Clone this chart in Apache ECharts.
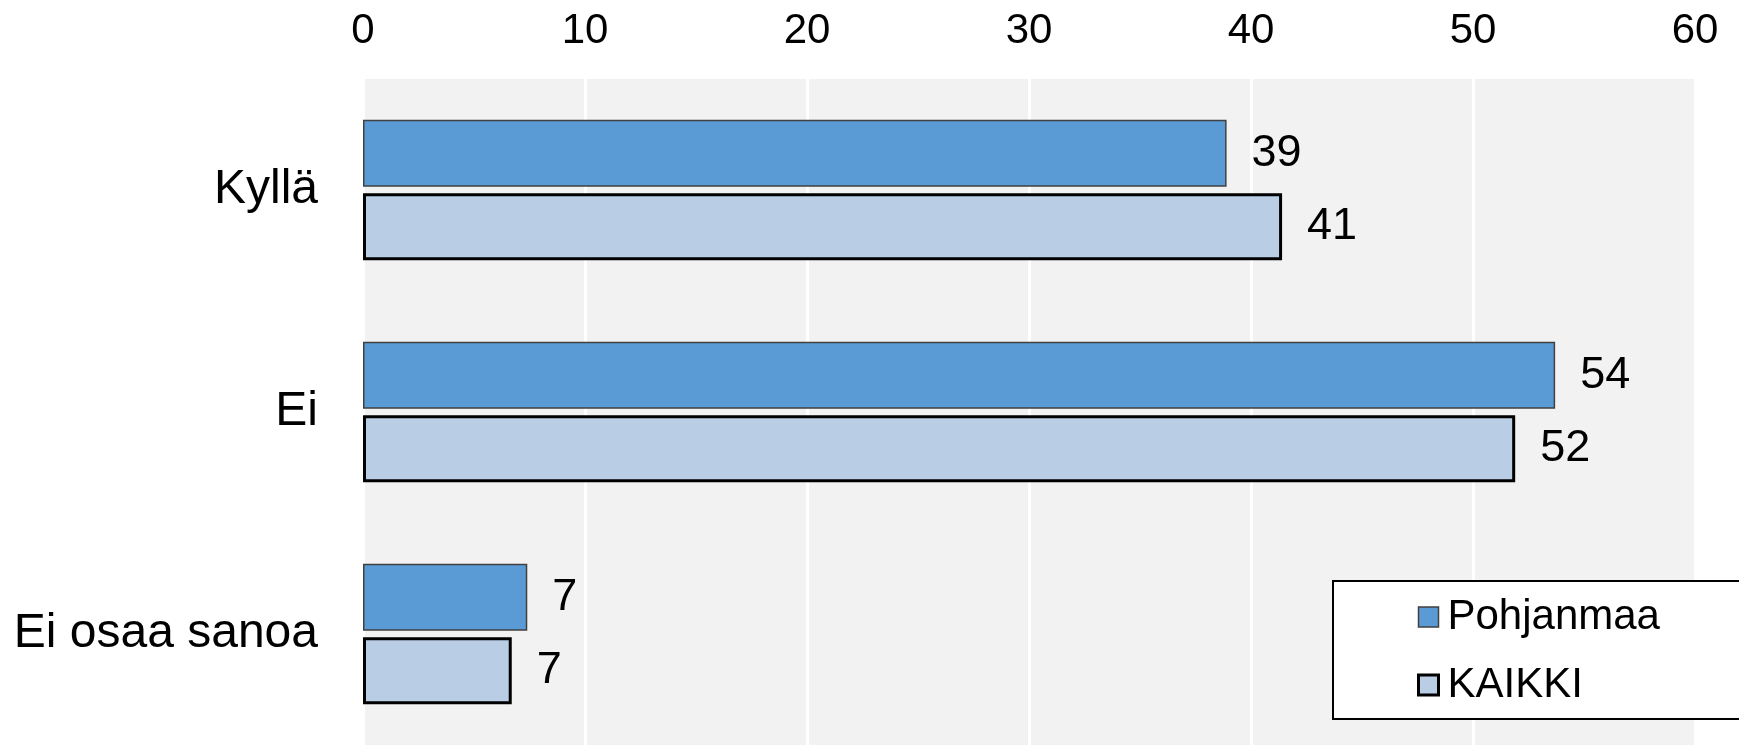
<!DOCTYPE html>
<html>
<head>
<meta charset="utf-8">
<script src="https://cdn.jsdelivr.net/npm/echarts@6/dist/echarts.min.js"></script>
<style>html,body{margin:0;padding:0;background:#fff;}#c{width:1739px;height:745px;}</style>
</head>
<body>
<div id="c"></div>
<script>
var categories = ['Kyllä', 'Ei', 'Ei osaa sanoa'];
var seriesNames = ['Pohjanmaa', 'KAIKKI'];
var pohjanmaa = [38.9, 53.7, 7.4];
var kaikki = [41.4, 51.9, 6.7];
var xTicks = [0, 10, 20, 30, 40, 50, 60];

var chart = echarts.init(document.getElementById('c'), null, {renderer: 'canvas'});
var FONT = 'Liberation Sans, Arial, sans-serif';
var labelCfg = {
  show: true, position: 'right', distance: 25,
  color: '#000', fontFamily: FONT, fontSize: 45, padding: [8, 0, 0, 0],
  formatter: function (p) { return Math.round(p.value); }
};
chart.setOption({
  animation: false,
  grid: {
    left: 363, top: 79, width: 1332, bottom: 0,
    show: true, backgroundColor: '#f2f2f2', borderWidth: 0
  },
  xAxis: {
    type: 'value', position: 'top',
    min: xTicks[0], max: xTicks[xTicks.length - 1], interval: 10,
    axisLine: {show: false}, axisTick: {show: false},
    splitLine: {show: true, lineStyle: {color: '#ffffff', width: 3}},
    axisLabel: {color: '#000', fontFamily: FONT, fontSize: 42, margin: 27}
  },
  yAxis: {
    type: 'category', data: categories, inverse: true,
    axisLine: {show: false}, axisTick: {show: false},
    splitLine: {show: false},
    axisLabel: {color: '#000', fontFamily: FONT, fontSize: 48, margin: 45, padding: [4, 0, 0, 0]}
  },
  legend: {
    orient: 'vertical', left: 1333, top: 581,
    itemWidth: 20, itemHeight: 20, itemGap: 20,
    padding: [12, 95, 10, 84],
    borderColor: '#000', borderWidth: 2, backgroundColor: '#fff',
    textStyle: {color: '#000', fontFamily: FONT, fontSize: 42, lineHeight: 48, padding: [0, 0, 0, 4]},
    data: [
      {name: seriesNames[0], icon: 'rect', itemStyle: {color: '#5b9bd5', borderColor: '#404040', borderWidth: 1.5}},
      {name: seriesNames[1], icon: 'rect', itemStyle: {color: '#b9cde5', borderColor: '#000', borderWidth: 3}}
    ]
  },
  series: [
    {
      name: seriesNames[0], type: 'bar', data: pohjanmaa,
      barWidth: 67, barGap: '10%',
      itemStyle: {color: '#5b9bd5', borderColor: '#404040', borderWidth: 1.5},
      label: labelCfg
    },
    {
      name: seriesNames[1], type: 'bar', data: kaikki,
      barWidth: 67, barGap: '10%',
      itemStyle: {color: '#b9cde5', borderColor: '#000', borderWidth: 3},
      label: labelCfg
    }
  ]
});
</script>
</body>
</html>
